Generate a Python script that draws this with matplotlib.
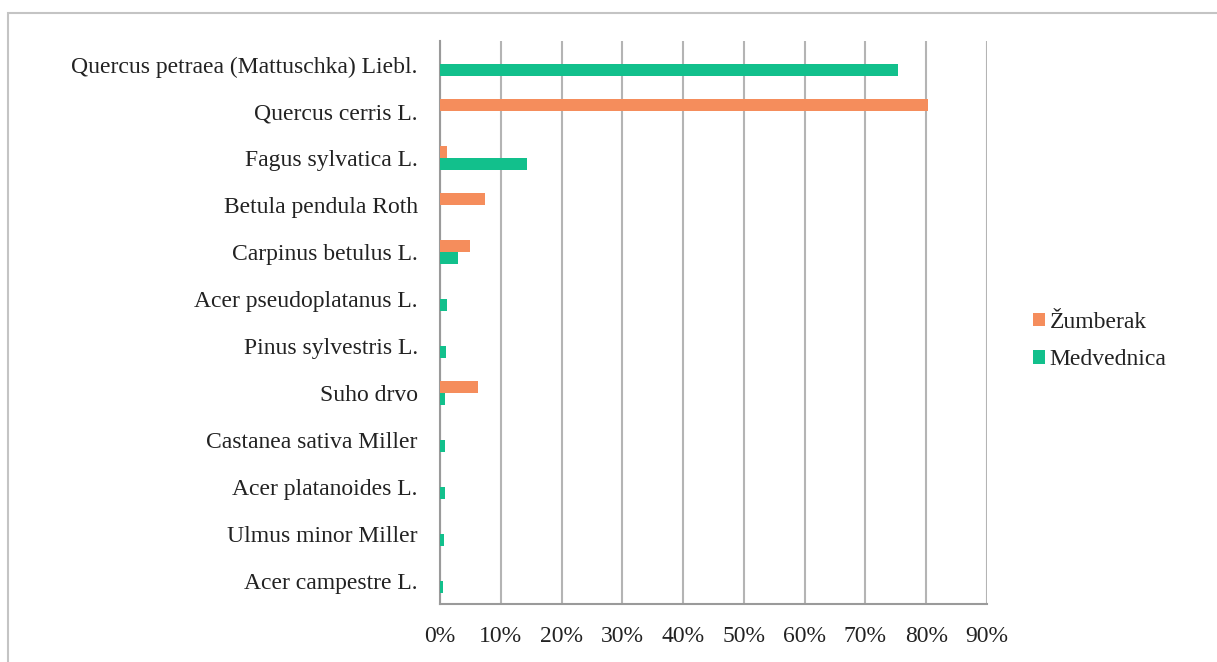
import matplotlib
matplotlib.use("Agg")
import matplotlib.pyplot as plt
from matplotlib.patches import Rectangle
import numpy as np

species = ["Quercus petraea (Mattuschka) Liebl.", "Quercus cerris L.", "Fagus sylvatica L.",
           "Betula pendula Roth", "Carpinus betulus L.", "Acer pseudoplatanus L.",
           "Pinus sylvestris L.", "Suho drvo", "Castanea sativa Miller",
           "Acer platanoides L.", "Ulmus minor Miller", "Acer campestre L."]
zumberak = [0.0, 80.3, 1.1, 7.4, 4.9, 0.0, 0.0, 6.3, 0.0, 0.0, 0.0, 0.0]
medvednica = [75.3, 0.0, 14.3, 0.0, 3.0, 1.1, 1.0, 0.8, 0.9, 0.8, 0.7, 0.5]
xticks = [0, 10, 20, 30, 40, 50, 60, 70, 80, 90]

orange = "#f58d5c"
green = "#12c08c"

plt.rcParams['font.family'] = ["Liberation Serif", "DejaVu Serif"]

fig = plt.figure(figsize=(12.17, 6.62), dpi=100)
ax = fig.add_axes([440 / 1217, 1 - 604 / 662, 547 / 1217, 563 / 662])

# light frame round the whole chart
fig.patches.append(Rectangle((8 / 1217, -0.1), 1.2, 1 - 13 / 662 + 0.1, transform=fig.transFigure,
                             fill=False, edgecolor="#c4c4c4", linewidth=1.5))

y = np.arange(len(species))
h = 0.255
ax.barh(y - h / 2, zumberak, height=h, color=orange, label="Žumberak", zorder=3)
ax.barh(y + h / 2, medvednica, height=h, color=green, label="Medvednica", zorder=3)

ax.set_ylim(len(species) - 0.5, -0.5)
ax.set_xlim(0, 90)
ax.set_xticks(xticks)
ax.set_xticklabels([f"{v}%" for v in xticks])
ax.set_yticks(y)
ax.set_yticklabels(species)

ax.grid(axis="x", color="#b4b4b4", linewidth=1.5, zorder=0)
for s in ["top", "right"]:
    ax.spines[s].set_visible(False)
ax.spines["left"].set_color("#9a9a9a")
ax.spines["left"].set_linewidth(1.5)
ax.spines["bottom"].set_color("#9a9a9a")
ax.spines["bottom"].set_linewidth(1.5)
ax.tick_params(axis="y", length=0, pad=16, labelsize=17, labelcolor="#222222")
ax.tick_params(axis="x", length=0, pad=16, labelsize=17, labelcolor="#222222")

fig.legend(loc="center left", bbox_to_anchor=(1012 / 1217, 1 - 341 / 662), frameon=False,
           fontsize=17, handlelength=0.5, handleheight=0.5, handletextpad=0.2,
           labelspacing=0.7, labelcolor="#222222")

fig.savefig("out.png", dpi=100)
